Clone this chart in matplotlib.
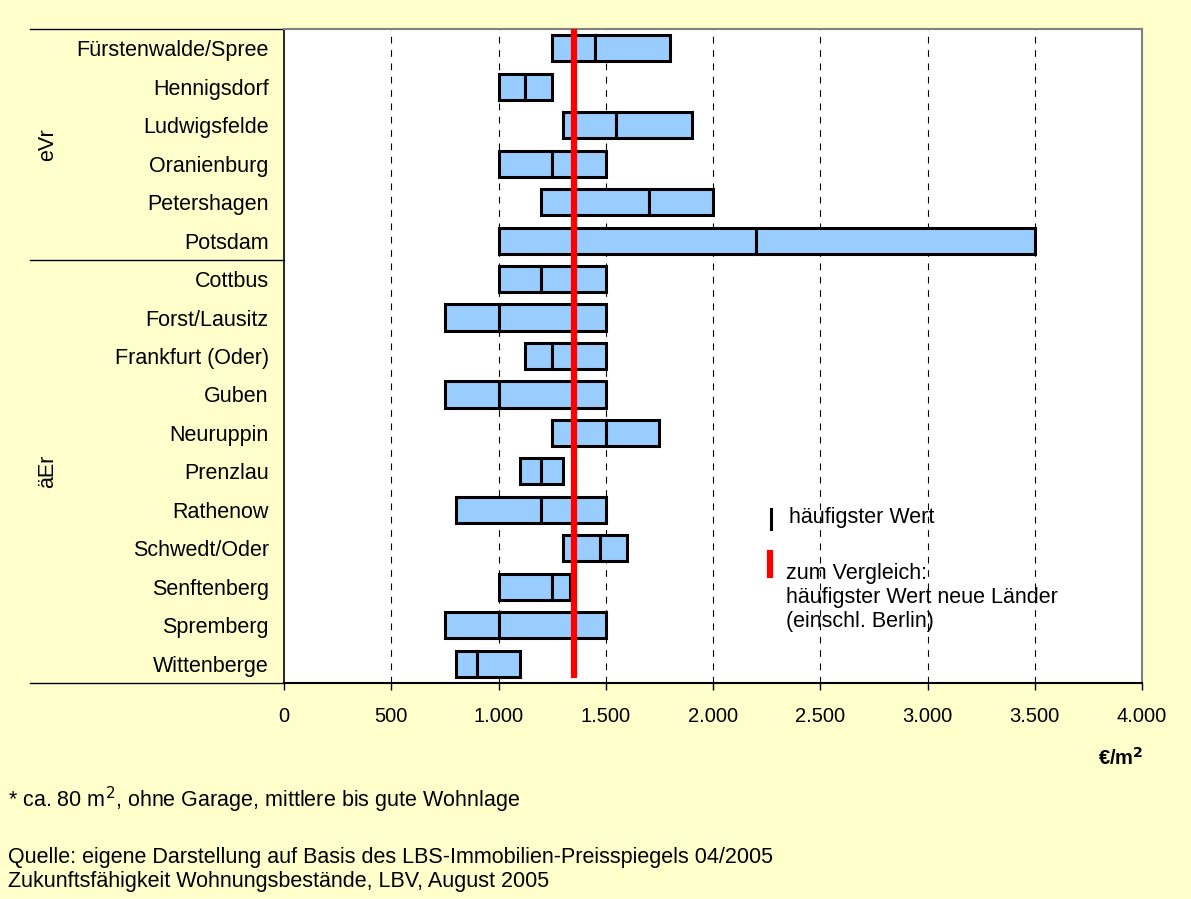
import matplotlib.pyplot as plt
import matplotlib.transforms as mtransforms
from matplotlib.ticker import FuncFormatter

plt.rcParams['font.family'] = ['Liberation Sans', 'DejaVu Sans']

# Kaufpreise Eigentumswohnungen in Euro/m2 (von, häufigster Wert, bis)
staedte = ["Fürstenwalde/Spree", "Hennigsdorf", "Ludwigsfelde", "Oranienburg",
           "Petershagen", "Potsdam",
           "Cottbus", "Forst/Lausitz", "Frankfurt (Oder)", "Guben", "Neuruppin",
           "Prenzlau", "Rathenow", "Schwedt/Oder", "Senftenberg", "Spremberg",
           "Wittenberge"]
von = [1250, 1000, 1300, 1000, 1200, 1000,
       1000, 750, 1125, 750, 1250, 1100, 800, 1300, 1000, 750, 800]
haeufig = [1450, 1125, 1550, 1250, 1700, 2200,
           1200, 1000, 1250, 1000, 1500, 1200, 1200, 1475, 1250, 1000, 900]
bis = [1800, 1250, 1900, 1500, 2000, 3500,
       1500, 1500, 1500, 1500, 1750, 1300, 1500, 1600, 1335, 1500, 1100]
gruppen = ["eVr", "äEr"]
gruppen_anzahl = [6, 11]
vergleich_neue_laender = 1350
xticks = [0, 500, 1000, 1500, 2000, 2500, 3000, 3500, 4000]

W, H = 1191, 899
bg = '#FFFFCC'
fs = 15.5
fig = plt.figure(figsize=(W / 100, H / 100), dpi=100, facecolor=bg)
ax = fig.add_axes([284 / W, 1 - 683 / H, (1142 - 284) / W, (683 - 29) / H])
ax.set_facecolor('white')

y = list(range(len(staedte)))
links = [h - v for h, v in zip(haeufig, von)]
rechts = [b - h for b, h in zip(bis, haeufig)]
ax.barh(y, links, left=von, height=0.68, color='#99CCFF', edgecolor='black', linewidth=2.2, zorder=3)
ax.barh(y, rechts, left=haeufig, height=0.68, color='#99CCFF', edgecolor='black', linewidth=2.2, zorder=3)

ax.vlines(vergleich_neue_laender, -0.5, 16.38, color='red', linewidth=4.5, zorder=4)

ax.set_xlim(0, 4000)
ax.set_ylim(len(staedte) - 0.5, -0.5)
ax.set_xticks(xticks)
ax.xaxis.set_major_formatter(FuncFormatter(lambda v, p: f"{int(v):,}".replace(",", ".")))
ax.set_yticks(y)
ax.set_yticklabels(staedte, fontsize=fs)
ax.tick_params(axis='y', length=0, pad=11)
ax.tick_params(axis='x', labelsize=14.5, length=5, width=1, pad=12, direction='out')
for gx in xticks[1:-1]:
    ax.axvline(gx, color='black', linestyle=(0, (6, 6)), linewidth=0.8, zorder=1)

for s in ['top', 'right']:
    ax.spines[s].set_color('#808080')
    ax.spines[s].set_linewidth(1.5)
ax.spines['left'].set_linewidth(1.2)
ax.spines['bottom'].set_linewidth(1.5)

# Gruppenlinien und Gruppenbeschriftung links
trans = mtransforms.blended_transform_factory(ax.transAxes, ax.transData)
x_links = (30 - 284) / (1142 - 284)
start = -0.5
for name, n in zip(gruppen, gruppen_anzahl):
    ax.plot([x_links, 0], [start, start], color='black', linewidth=1, transform=trans, clip_on=False)
    ax.text((48 - 284) / (1142 - 284), start + n / 2, name, rotation=90, fontsize=fs,
            ha='center', va='center', transform=trans)
    start += n
ax.plot([x_links, 0], [start, start], color='black', linewidth=1, transform=trans, clip_on=False)

# Legende
def fx(px):
    return px / W

def fy(py):
    return 1 - py / H

fig.add_artist(plt.Line2D([fx(771), fx(771)], [fy(509), fy(529)], color='black', linewidth=2.2,
                          transform=fig.transFigure))
fig.text(fx(789), fy(518), "häufigster Wert", fontsize=fs, va='center')
fig.add_artist(plt.Line2D([fx(770), fx(770)], [fy(553), fy(575)], color='red', linewidth=4.5,
                          transform=fig.transFigure))
legende = ["zum Vergleich:", "häufigster Wert neue Länder", "(einschl. Berlin)"]
for i, zeile in enumerate(legende):
    fig.text(fx(786), fy(574 + 23.5 * i), zeile, fontsize=fs, va='center')

fig.text(fx(1121), fy(758), "€/m$^\\mathbf{2}$", fontsize=14.5, fontweight='bold', ha='center', va='center')
fig.text(fx(8), fy(800), "* ca. 80 m$^2$, ohne Garage, mittlere bis gute Wohnlage", fontsize=fs, va='center')
fig.text(fx(8), fy(858), "Quelle: eigene Darstellung auf Basis des LBS-Immobilien-Preisspiegels 04/2005",
         fontsize=fs, va='center')
fig.text(fx(8), fy(882), "Zukunftsfähigkeit Wohnungsbestände, LBV, August 2005", fontsize=fs, va='center')

fig.savefig('out.png', dpi=100, facecolor=bg)
